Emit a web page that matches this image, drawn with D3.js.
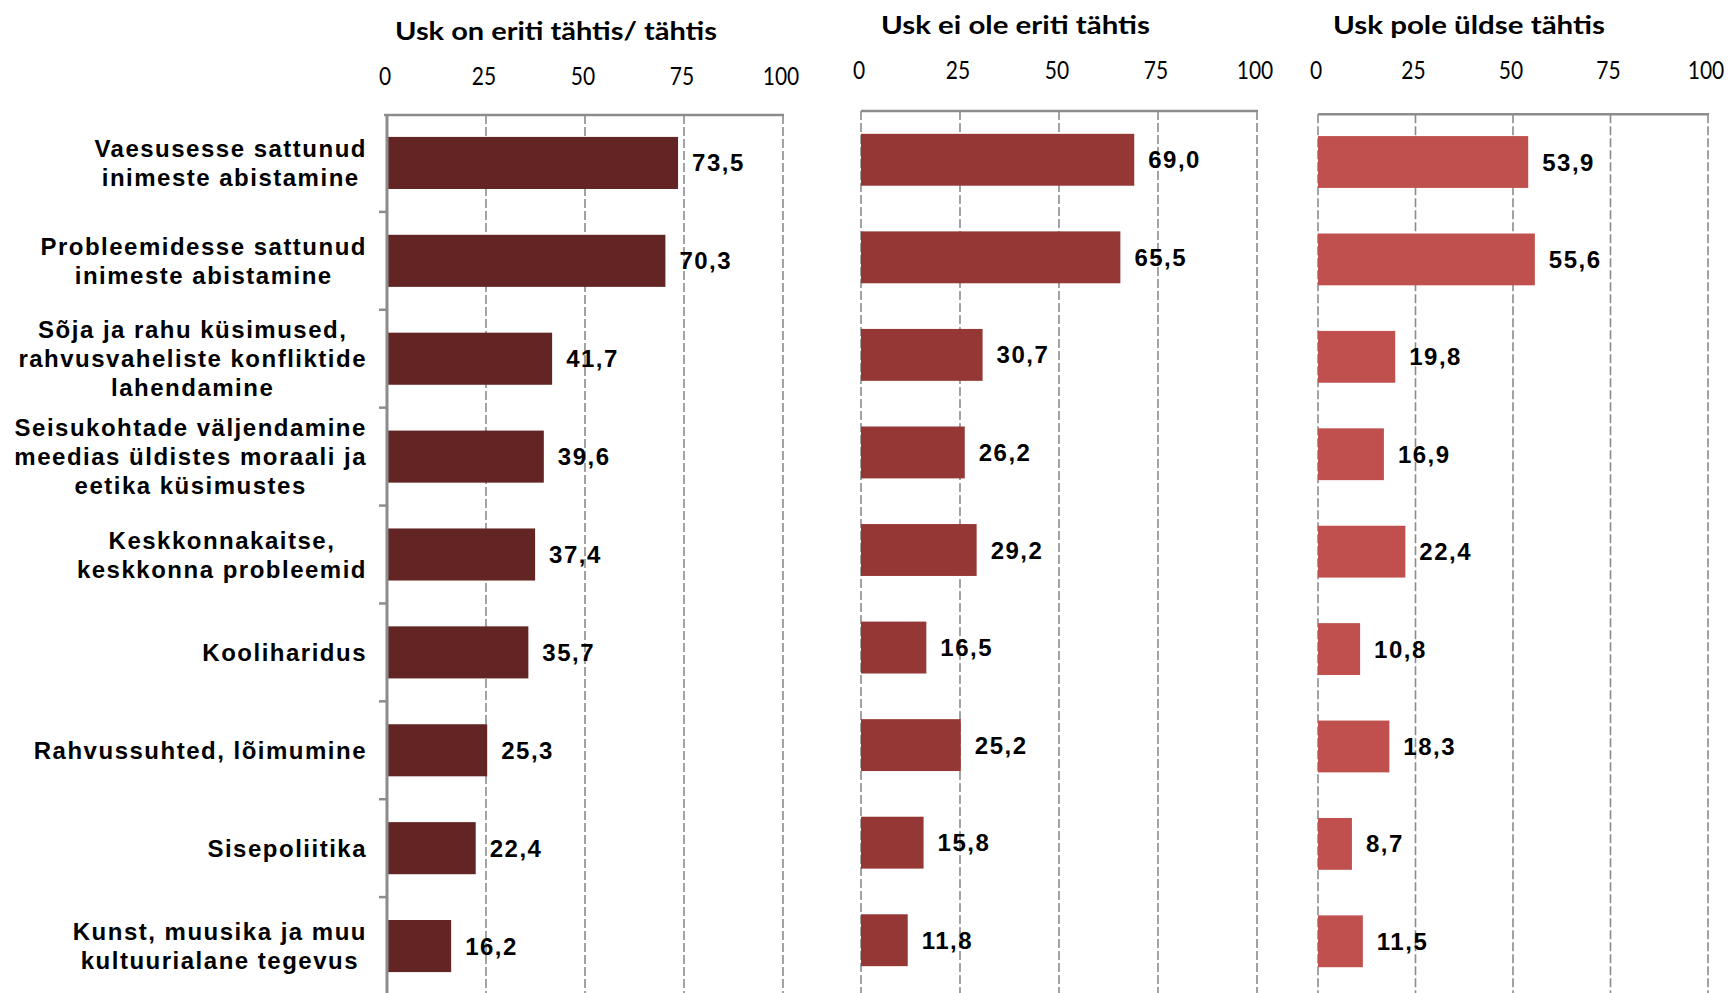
<!DOCTYPE html>
<html>
<head>
<meta charset="utf-8">
<script src="https://cdn.jsdelivr.net/npm/d3@7"></script>
<style>
  html, body { margin: 0; padding: 0; background: #ffffff; }
  svg { display: block; }
</style>
</head>
<body>
<svg id="chart" width="1733" height="993"></svg>
<script>
// Topics (line breaks mark where the label wraps)
const categories = [
  "Vaesusesse sattunud\ninimeste abistamine",
  "Probleemidesse sattunud\ninimeste abistamine",
  "Sõja ja rahu küsimused,\nrahvusvaheliste konfliktide\nlahendamine",
  "Seisukohtade väljendamine\nmeedias üldistes moraali ja\neetika küsimustes",
  "Keskkonnakaitse,\nkeskkonna probleemid",
  "Kooliharidus",
  "Rahvussuhted, lõimumine",
  "Sisepoliitika",
  "Kunst, muusika ja muu\nkultuurialane tegevus"
];

// Share (%) by how important faith is to the respondent
const seriesNames = ["Usk on eriti tähtis/ tähtis", "Usk ei ole eriti tähtis", "Usk pole üldse tähtis"];
const veryImportant = [73.5, 70.3, 41.7, 39.6, 37.4, 35.7, 25.3, 22.4, 16.2];
const notVeryImportant = [69.0, 65.5, 30.7, 26.2, 29.2, 16.5, 25.2, 15.8, 11.8];
const notAtAllImportant = [53.9, 55.6, 19.8, 16.9, 22.4, 10.8, 18.3, 8.7, 11.5];

const tickValues = [0, 25, 50, 75, 100];
const tickLabels = ["0", "25", "50", "75", "100"];

const seriesValues = [veryImportant, notVeryImportant, notAtAllImportant];

// Panel layout
const panels = [
  { x0: 387, x1: 783, y0: 114, y1: 995, top: 115, color: "#632523", titleX: 395, titleW: 322, titleY: 39.5, tickY: 85, axis: true },
  { x0: 861, x1: 1257, y0: 111, y1: 989, top: 111, color: "#953735", titleX: 881, titleW: 269, titleY: 33.5, tickY: 78.5, axis: false },
  { x0: 1318, x1: 1708, y0: 113.3, y1: 990, top: 114.3, color: "#C0504D", titleX: 1333, titleW: 272, titleY: 33.5, tickY: 78.5, axis: false }
];

const svg = d3.select("#chart");
const fmt = v => d3.format(".1f")(v).replace(".", ",");
const gridColor = "#8c8c8c";

panels.forEach((p, pi) => {
  const values = seriesValues[pi];
  const x = d3.scaleLinear().domain([0, 100]).range([p.x0, p.x1]);
  const y = d3.scaleBand().domain(categories).range([p.y0, p.y1])
    .paddingInner(0.468).paddingOuter(0.234);
  const g = svg.append("g");

  // title
  g.append("text")
    .attr("x", p.titleX).attr("y", p.titleY)
    .attr("textLength", p.titleW).attr("lengthAdjust", "spacingAndGlyphs")
    .style("font-family", "Lato, 'Open Sans', sans-serif")
    .style("font-weight", 700).style("font-size", "25px")
    .attr("fill", "#000")
    .text(seriesNames[pi]);

  // tick labels
  g.selectAll(".tl").data(tickValues).join("text")
    .attr("class", "tl")
    .attr("transform", (d) => `translate(${x(d) - 2},${p.tickY}) scale(0.84,1)`)
    .attr("text-anchor", "middle")
    .style("font-family", "Lato, 'Open Sans', sans-serif")
    .style("font-size", "25px")
    .attr("fill", "#000")
    .text((d, i) => tickLabels[i]);

  // dashed gridlines
  g.selectAll(".grid").data(p.axis ? tickValues.slice(1) : tickValues).join("line")
    .attr("class", "grid")
    .attr("x1", d => x(d)).attr("x2", d => x(d))
    .attr("y1", p.top).attr("y2", 993)
    .attr("stroke", gridColor).attr("stroke-width", 1.6)
    .attr("stroke-dasharray", "9,3");

  // top frame line
  g.append("line")
    .attr("x1", x(0) - (p.axis ? 3 : 0)).attr("x2", x(100) + 1)
    .attr("y1", p.top).attr("y2", p.top)
    .attr("stroke", gridColor).attr("stroke-width", 2.5);

  // bars
  g.selectAll(".bar").data(values).join("rect")
    .attr("class", "bar")
    .attr("x", x(0))
    .attr("y", (d, i) => y(categories[i]))
    .attr("width", d => x(d) - x(0))
    .attr("height", y.bandwidth())
    .attr("fill", p.color);

  // value labels
  g.selectAll(".val").data(values).join("text")
    .attr("class", "val")
    .attr("x", d => x(d) + 14)
    .attr("y", (d, i) => y(categories[i]) + y.bandwidth() / 2 + 8.5)
    .style("font-family", "'Liberation Sans', Arial, sans-serif")
    .style("font-weight", 700).style("font-size", "24px")
    .style("letter-spacing", "1.5px")
    .attr("fill", "#000")
    .text(d => fmt(d));

  if (p.axis) {
    // category axis line with ticks between bands
    g.append("line")
      .attr("x1", x(0)).attr("x2", x(0))
      .attr("y1", p.top - 1).attr("y2", 993)
      .attr("stroke", gridColor).attr("stroke-width", 3);
    const step = y.step();
    const bounds = d3.range(1, categories.length).map(i => p.y0 + i * step);
    g.selectAll(".tick").data(bounds).join("line")
      .attr("class", "tick")
      .attr("x1", x(0) - 8).attr("x2", x(0))
      .attr("y1", d => d).attr("y2", d => d)
      .attr("stroke", gridColor).attr("stroke-width", 2.5);

    // category labels: block right-aligned, lines centred within the block
    const lineH = 29;
    categories.forEach(cat => {
      const lines = cat.split("\n");
      const cy = y(cat) + y.bandwidth() / 2;
      const t = g.append("text")
        .style("font-family", "'Liberation Sans', Arial, sans-serif")
        .style("font-weight", 700).style("font-size", "24px")
        .style("letter-spacing", "1.5px")
        .attr("text-anchor", "middle")
        .attr("fill", "#000");
      const spans = lines.map((ln, li) => t.append("tspan")
        .attr("y", cy + (li - (lines.length - 1) / 2) * lineH + 8.5)
        .text(ln));
      const w = d3.max(spans, s => s.node().getComputedTextLength());
      const right = 367;
      spans.forEach(s => s.attr("x", right - w / 2));
    });
  }
});
</script>
</body>
</html>
